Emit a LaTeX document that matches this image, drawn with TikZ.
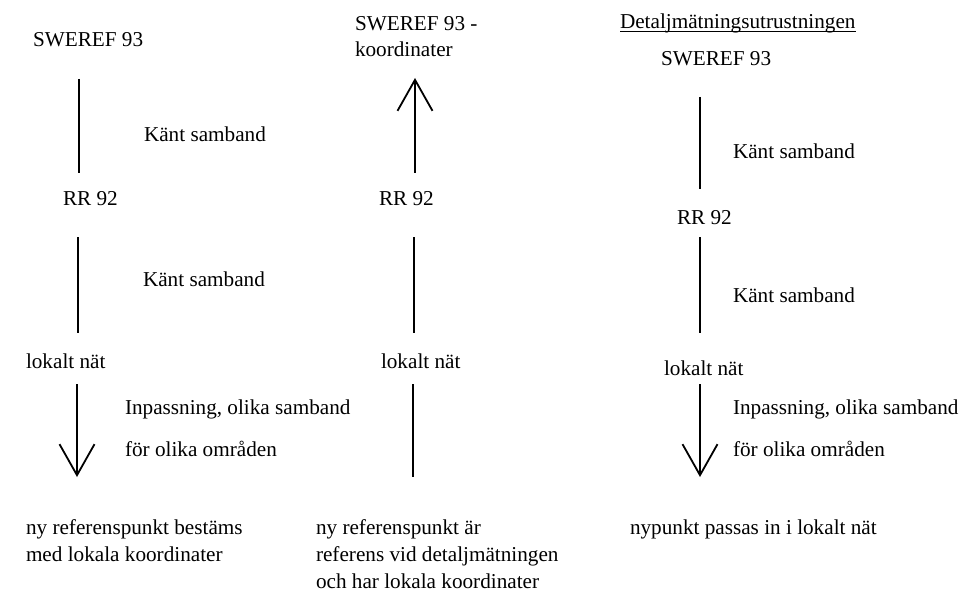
\documentclass[tikz,border=0pt]{standalone}
\usepackage{fontspec}
\setmainfont{Liberation Serif}
\usetikzlibrary{arrows.meta}
\begin{document}
\begin{tikzpicture}[x=1pt,y=-1pt,
  lbl/.style={anchor=base west,inner sep=0pt,outer sep=0pt,font=\fontsize{21.2}{25}\selectfont},
  conn/.style={line width=1.8pt},
  arr/.style={conn,-{Straight Barb[length=31pt,width=35pt]}}]
\useasboundingbox[fill=white] (0,0) rectangle (964,607);

% ---------- column 1 ----------
\node[lbl] (s1) at (33,47) {SWEREF 93};
\node[lbl] (k1a) at (144,142) {Känt samband};
\node[lbl] (r1) at (63,205) {RR 92};
\node[lbl] (k1b) at (143,286) {Känt samband};
\node[lbl] (l1) at (26,368) {lokalt nät};
\node[lbl] (i1) at (125,414) {Inpassning, olika samband};
\node[lbl] (f1) at (125,456) {för olika områden};
\node[lbl] (n1a) at (26,534) {ny referenspunkt bestäms};
\node[lbl] (n1b) at (26,561) {med lokala koordinater};
\coordinate (c1a) at (79,79);  \coordinate (c1b) at (79,173);
\coordinate (c1c) at (78,237); \coordinate (c1d) at (78,333);
\coordinate (c1e) at (77,384); \coordinate (c1f) at (77,477);
\draw[conn] (c1a) -- (c1b);
\draw[conn] (c1c) -- (c1d);
\draw[arr] (c1e) -- (c1f);

% ---------- column 2 ----------
\node[lbl] (s2a) at (355,31) {SWEREF 93 -};
\node[lbl] (s2b) at (355,57) {koordinater};
\node[lbl] (r2) at (379,205) {RR 92};
\node[lbl] (l2) at (381,368) {lokalt nät};
\node[lbl] (n2a) at (316,534) {ny referenspunkt är};
\node[lbl] (n2b) at (316,561) {referens vid detaljmätningen};
\node[lbl] (n2c) at (316,588) {och har lokala koordinater};
\coordinate (c2a) at (415,173); \coordinate (c2b) at (415,78);
\coordinate (c2c) at (414,237); \coordinate (c2d) at (414,333);
\coordinate (c2e) at (413,384); \coordinate (c2f) at (413,477);
\draw[arr] (c2a) -- (c2b);
\draw[conn] (c2c) -- (c2d);
\draw[conn] (c2e) -- (c2f);

% ---------- column 3 ----------
\node[lbl] (d3) at (620,29) {Detaljmätningsutrustningen};
\draw[line width=1pt] ([yshift=-3pt]d3.base west) -- ([yshift=-3pt]d3.base east);
\node[lbl] (s3) at (661,66) {SWEREF 93};
\node[lbl] (k3a) at (733,158) {Känt samband};
\node[lbl] (r3) at (677,224) {RR 92};
\node[lbl] (k3b) at (733,302) {Känt samband};
\node[lbl] (l3) at (664,375) {lokalt nät};
\node[lbl] (i3) at (733,414) {Inpassning, olika samband};
\node[lbl] (f3) at (733,456) {för olika områden};
\node[lbl] (n3) at (630,534) {nypunkt passas in i lokalt nät};
\coordinate (c3a) at (700,97);  \coordinate (c3b) at (700,189);
\coordinate (c3c) at (700,237); \coordinate (c3d) at (700,333);
\coordinate (c3e) at (700,384); \coordinate (c3f) at (700,477);
\draw[conn] (c3a) -- (c3b);
\draw[conn] (c3c) -- (c3d);
\draw[arr] (c3e) -- (c3f);
\end{tikzpicture}
\end{document}
